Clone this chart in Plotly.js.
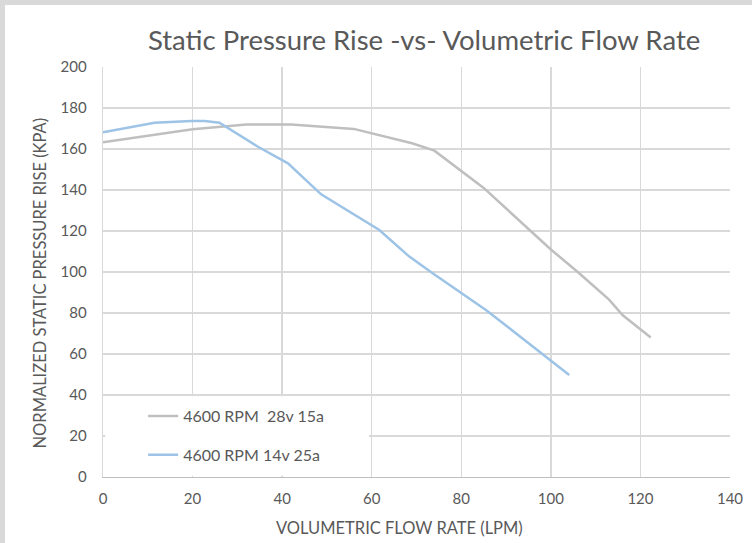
<!DOCTYPE html>
<html>
<head>
<meta charset="utf-8">
<script src="https://cdn.plot.ly/plotly-3.0.1.min.js"></script>
<style>
  html, body { margin: 0; padding: 0; background: #d9d9d9; width: 752px; height: 543px; overflow: hidden; }
  #chart { position: absolute; left: 5px; top: 5px; width: 747px; height: 538px; background: #ffffff; }
</style>
</head>
<body>
<div id="chart"></div>
<script>
// Series 1: 4600 RPM 28v 15a
const flowA = [0, 20, 32, 42, 56, 69, 74, 85, 100, 106, 113, 116, 122.3];
const pressA = [163.3, 169.6, 172, 172, 169.8, 162.8, 159.2, 141, 111, 100, 86.5, 79, 68];
// Series 2: 4600 RPM 14v 25a
const flowB = [0, 11.5, 19.7, 22.7, 26, 34.6, 41.3, 48.7, 61.7, 68.4, 73.6, 79.6, 85.5, 104.1];
const pressB = [168.1, 172.8, 173.7, 173.7, 172.8, 161.1, 153, 137.9, 120.5, 107.5, 99.4, 90.4, 81.5, 49.8];
const nameA = '4600 RPM  28v 15a';
const nameB = '4600 RPM 14v 25a';
const xTicks = [0, 20, 40, 60, 80, 100, 120, 140];
const yTicks = [0, 20, 40, 60, 80, 100, 120, 140, 160, 180, 200];
const titleText = 'Static Pressure Rise -vs- Volumetric Flow Rate';
const xTitle = 'VOLUMETRIC FLOW RATE (LPM)';
const yTitle = 'NORMALIZED STATIC PRESSURE RISE (KPA)';

const textColor = '#595959';
const fontFam = 'Lato, "Open Sans", sans-serif';

const traces = [
  { x: flowA, y: pressA, name: nameA, legendgroup: 'a', type: 'scatter', mode: 'lines',
    line: { color: '#bfbfbf', width: 2.5 } },
  { x: flowB, y: pressB, name: nameB, legendgroup: 'b', type: 'scatter', mode: 'lines',
    line: { color: '#9dc3e6', width: 2.5 } }
];

const layout = {
  width: 747, height: 538,
  paper_bgcolor: '#ffffff', plot_bgcolor: '#ffffff',
  margin: { l: 98, r: 22, t: 62, b: 66 },
  font: { family: fontFam, color: textColor, size: 15 },
  title: { text: titleText,
    font: { family: fontFam, size: 27.5, color: textColor },
    x: 0.561, xanchor: 'center', y: 0.935, yanchor: 'middle' },
  xaxis: {
    range: [0, 140], tickvals: xTicks, ticktext: xTicks.map(String),
    showgrid: true, gridcolor: '#d9d9d9', gridwidth: 1.3,
    showline: true, linecolor: '#bfbfbf', linewidth: 1.3,
    zeroline: false, ticks: '', ticklabelstandoff: 8,
    tickfont: { size: 15, color: textColor },
    fixedrange: true
  },
  yaxis: {
    range: [0, 200], tickvals: yTicks, ticktext: yTicks.map(String),
    showgrid: true, gridcolor: '#d9d9d9', gridwidth: 1.3,
    showline: true, linecolor: '#d9d9d9', linewidth: 1.3,
    zeroline: false, ticks: '', ticklabelstandoff: 12,
    tickfont: { size: 15, color: textColor },
    fixedrange: true
  },
  annotations: [
    { text: xTitle, xref: 'paper', yref: 'paper', x: 0.4733, y: -0.1244,
      xanchor: 'center', yanchor: 'middle', showarrow: false,
      font: { size: 16.5, color: textColor } },
    { text: yTitle, xref: 'paper', yref: 'paper', x: -0.0998, y: 0.473,
      xanchor: 'center', yanchor: 'middle', showarrow: false, textangle: -90,
      font: { size: 16.5, color: textColor } }
  ],
  shapes: [
    { type: 'rect', xref: 'x', yref: 'y', x0: 0.5, x1: 59.4, y0: 0.6, y1: 39.4,
      fillcolor: '#ffffff', line: { width: 0 }, layer: 'above' }
  ],
  legend: {
    x: 0.064, y: 0.19, xanchor: 'left', yanchor: 'top',
    bgcolor: 'rgba(255,255,255,0)', borderwidth: 0,
    font: { size: 16, color: textColor }, tracegroupgap: 15,
    itemwidth: 30
  },
  showlegend: true
};

Plotly.newPlot('chart', traces, layout, { displayModeBar: false, staticPlot: true });
</script>
</body>
</html>
